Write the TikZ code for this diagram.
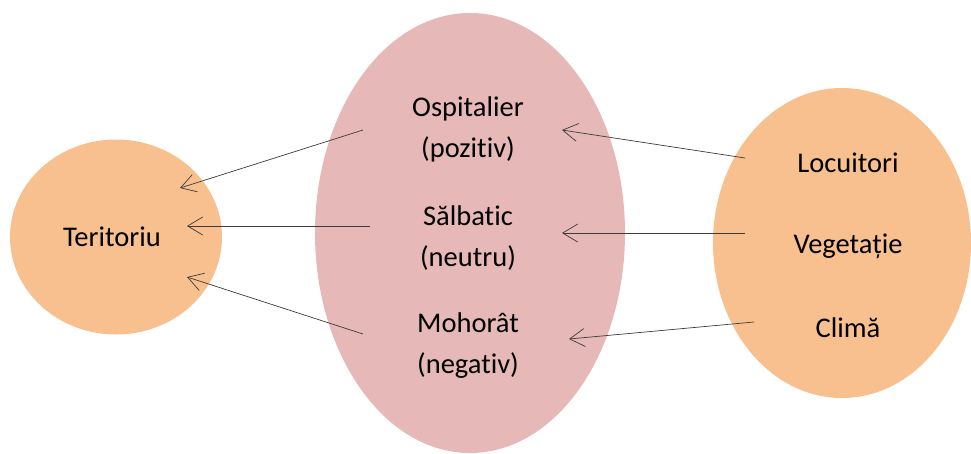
\documentclass[tikz,border=0pt]{standalone}
\usepackage{fontspec}
\setmainfont{Carlito}[Ligatures=CommonOff]
\usetikzlibrary{shapes.geometric,arrows.meta}
\definecolor{peach}{RGB}{248,192,143}
\definecolor{rose}{RGB}{230,184,183}
\definecolor{ink}{RGB}{60,60,60}

\begin{document}
\begin{tikzpicture}[x=1pt,y=-1pt,
  blob/.style={ellipse,inner sep=0pt},
  word/.style={font=\fontsize{28.5}{41}\selectfont,align=center,inner sep=0pt},
  link/.style={ink,line width=0.7pt,-{Straight Barb[length=15pt,width=18pt]}}]
  \useasboundingbox (0,0) rectangle (971,453);
  % the three ellipses
  \node[blob,fill=peach,minimum width=212pt,minimum height=195pt] (Ter)  at (116,237) {};
  \node[blob,fill=rose,minimum width=310pt,minimum height=440pt]  (Mid)  at (470,233) {};
  \node[blob,fill=peach,minimum width=258pt,minimum height=310pt] (Src)  at (842,243) {};
  % texts
  \node[word,anchor=base] (Teritoriu) at (112,246) {Teritoriu};
  \node[word] (Osp) at (468,129) {Ospitalier\\(pozitiv)};
  \node[word] (Sal) at (468,238) {Sălbatic\\(neutru)};
  \node[word] (Moh) at (468,346) {Mohorât\\(negativ)};
  \node[word,anchor=base] (Loc) at (848,172) {Locuitori};
  \node[word,anchor=base] (Veg) at (848,253) {Vegetație};
  \node[word,anchor=base] (Cli) at (848,337) {Climă};
  % arrow ends
  \coordinate (t1) at (180,188);
  \coordinate (t2) at (187,226);
  \coordinate (t3) at (187,277);
  \coordinate (o1) at (363,130);
  \coordinate (s1) at (370,226);
  \coordinate (m1) at (363,334);
  \coordinate (o2) at (562,130);
  \coordinate (s2) at (562,233);
  \coordinate (m2) at (569,339);
  \coordinate (l1) at (745,158);
  \coordinate (v1) at (745,233);
  \coordinate (c1) at (754,322);
  \draw[link] (o1) -- (t1);
  \draw[link] (s1) -- (t2);
  \draw[link] (m1) -- (t3);
  \draw[link] (l1) -- (o2);
  \draw[link] (v1) -- (s2);
  \draw[link] (c1) -- (m2);
\end{tikzpicture}
\end{document}
